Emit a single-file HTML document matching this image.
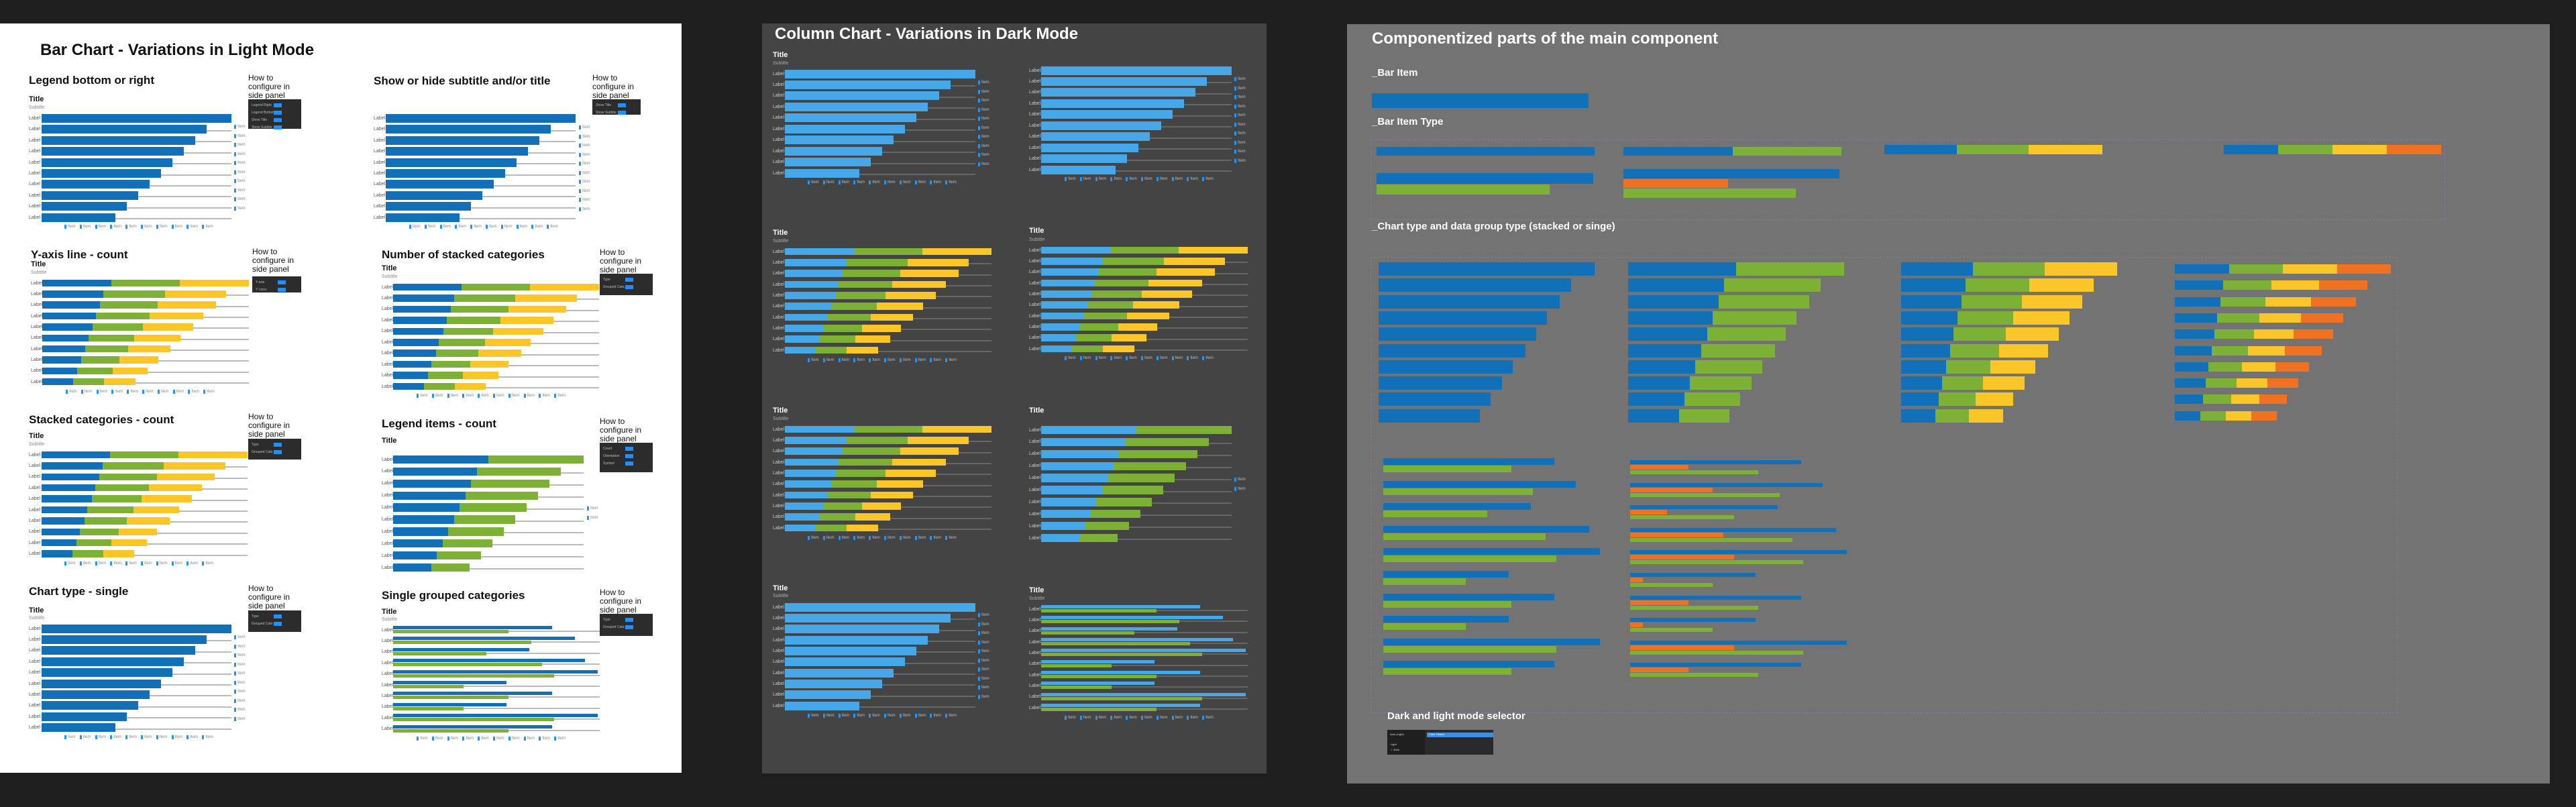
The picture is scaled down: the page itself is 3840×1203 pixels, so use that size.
<!DOCTYPE html>
<html><head><meta charset="utf-8">
<style>
html,body{margin:0;padding:0}
body{width:3840px;height:1203px;background:#1e1e1e;position:relative;overflow:hidden;font-family:"Liberation Sans",sans-serif}
.a{position:absolute}
.t{position:absolute;white-space:nowrap;line-height:1}
</style></head>
<body>
<div class="a" style="left:0;top:35px;width:1016px;height:1117px;background:#fff"></div>
<div class="a" style="left:1136px;top:35px;width:752px;height:1118px;background:#444"></div>
<div class="a" style="left:2008px;top:36px;width:1793px;height:1132px;background:#737373"></div>
<div class="a" style="left:2043px;top:208px;width:1600px;height:118px;border:1px dashed #8a76a8"></div>
<div class="a" style="left:2043px;top:383px;width:1529px;height:678px;border:1px dashed #8a76a8"></div>
<div id="root"></div>
<script>
// ---------- data ----------
const labels = ['Label','Label','Label','Label','Label','Label','Label','Label','Label','Label'];
const singleValues = [100,87,81,75,69,63,57,51,45,39];
const stackA = [33.3,29.7,28,26,24.3,22.3,20.7,18.7,17,15];
const stackB = [33.3,29.7,28,26,24.3,22.3,20.7,18.7,17,15];
const stackC = [33.3,29.7,28,26,24.3,22.3,20.7,18.7,17,15];
const legendCountA = [50,44,41,38,35,32,29,26,23,20];
const legendCountB = [50,44,41,38,35,32,29,26,23,20];
const groupBlue = [77,88,66,93,99,55,77,55,99,77];
const groupGreen = [56,67,45,72,78,34,56,34,78,56];
const compSingle = [100,89,84,78,73,68,62,57,52,47];
const compHalfA = [50,44.5,42,39,36.5,34,31,28.5,26,23.5];
const compHalfB = [50,44.5,42,39,36.5,34,31,28.5,26,23.5];
const compThirdA = [33.3,29.7,28,26,24.3,22.7,20.7,19,17.3,15.7];
const compThirdB = [33.3,29.7,28,26,24.3,22.7,20.7,19,17.3,15.7];
const compThirdC = [33.3,29.7,28,26,24.3,22.7,20.7,19,17.3,15.7];
const compQuarter = [25,22.3,21,19.5,18.3,17,15.5,14.3,13,11.8];
const compGroupBlue = [79,89,68,95,100,58,79,58,100,79];
const compGroupGreen = [59,69,48,75,80,38,59,38,80,59];
const compGroupOrange = [27,38,17,43,48,6,27,6,48,27];
const legendItems = ['Item','Item','Item','Item','Item','Item','Item','Item','Item','Item'];

const C = {blue:'#1170b8',green:'#7db135',yellow:'#fdc628',orange:'#f07122',dblue:'#46a7e9'};
const root = document.getElementById('root');

function box(x,y,w,h,bg,name,inter){
  const d=document.createElement('div');
  d.className='a';
  d.style.cssText=`left:${x}px;top:${y}px;width:${w}px;height:${h}px;background:${bg}`;
  
  
  root.appendChild(d);return d;
}
function txt(x,yc,s,size,color,bold,name){
  const d=document.createElement('div');
  d.className='t';
  d.style.cssText=`left:${x}px;top:${yc-size/2}px;font-size:${size}px;color:${color};font-weight:${bold?'bold':'normal'}`;
  d.textContent=s;
  
  
  root.appendChild(d);return d;
}

function chart(o){
  const dark=o.dark;
  const lc=dark?'#ccc':'#555', gc=dark?'#666':'#bbb';
  const bcol=dark?C.dblue:C.blue;
  const cols=[bcol,C.green,C.yellow,C.orange];
  if(o.title!==undefined){txt(o.labelX,o.title,'Title',11,dark?'#fff':'#111',true,'chart-title');}
  if(o.sub!==undefined){txt(o.labelX,o.sub,'Subtitle',7,dark?'#aaa':'#888',false,'chart-subtitle');}
  const W=o.xMax-o.x0;
  const sx=v=>v/100*W;
  labels.forEach((lb,i)=>{
    const yc=o.first+i*o.step;
    box(o.x0,yc+1,W,2,gc,'gridline',false);
    txt(o.labelX,yc,lb,7,lc,false,'y-axis-label');
    if(o.mode==='group'){
      const h=5;
      o.series.forEach((s,k)=>{
        box(o.x0,yc-h-1+k*(h+1),sx(s[i]),h,cols[k===1?1:0],'bar-'+(k?'green':'blue'),true);
      });
    } else {
      let x=o.x0;
      o.series.forEach((s,k)=>{
        const w=sx(s[i]);
        box(x,yc-o.h/2,w,o.h,cols[k],'bar-segment-'+(k+1),true);
        x+=w;
      });
    }
  });
  if(o.lr){for(let i=0;i<o.lr.n;i++){
    const y=o.lr.y0+i*o.lr.step;
    box(o.lr.x,y-3,3,6,'#2196f3','legend-swatch',false);
    txt(o.lr.x+5,y,legendItems[i],6,dark?'#bbb':'#888',false,'legend-entry');
  }}
  if(o.lb){legendItems.forEach((it,i)=>{
    const x=o.lb.x0+i*22.8;
    box(x,o.lb.y-3,3,6,'#2196f3','legend-swatch',false);
    txt(x+5,o.lb.y,it,6,dark?'#bbb':'#888',false,'legend-entry');
  });}
}
function config(x,y0,bx,by,bw,bh,rows){
  ['How to','configure  in','side panel'].forEach((s,i)=>txt(x,y0+i*13,s,12,'#111',false,'config-note'));
  box(bx,by,bw,bh,'#2c2c2c','side-panel-preview',false);
  rows.forEach((r,i)=>{
    const y=by+9+i*11;
    txt(bx+5,y,r,5,'#bbb',false,'panel-row-label');
    box(bx+38,y-3,12,6,'#1e90ff','panel-control',true);
  });
}

// ---------- light panel ----------
txt(60,75,'Bar Chart - Variations in Light Mode',24,'#111',true,'light-panel-title');
const heads=[['Legend bottom or right',43,119],['Show or hide subtitle and/or title',557,120],['Y-axis line  - count',46,379],['Number of stacked categories',569,379],['Stacked categories - count',43,625],['Legend items - count',569,631],['Chart type - single',43,881],['Single grouped categories',569,887]];
heads.forEach(h=>txt(h[1],h[2],h[0],17,'#111',true,'section-heading'));

chart({labelX:43,x0:62,xMax:345,title:148,sub:160,first:176.5,step:16.4,h:13,series:[singleValues],lr:{x:349,y0:189,step:13.5,n:10},lb:{x0:96,y:338}});
chart({labelX:557,x0:575,xMax:858,first:176.5,step:16.4,h:13,series:[singleValues],lr:{x:863,y0:190,step:13.5,n:10},lb:{x0:610,y:338}});
chart({labelX:46,x0:63,xMax:371,title:394,sub:406,first:422,step:16.35,h:10.5,series:[stackA,stackB,stackC],lb:{x0:98,y:584}});
chart({labelX:569,x0:586,xMax:893,title:400,sub:412,first:428,step:16.45,h:10.5,series:[stackA,stackB,stackC],lb:{x0:621,y:590}});
chart({labelX:43,x0:62,xMax:369,title:650,sub:662,first:678,step:16.4,h:10.5,series:[stackA,stackB,stackC],lb:{x0:96,y:840}});
chart({labelX:569,x0:586,xMax:870,title:657,first:685,step:17.9,h:12.3,series:[legendCountA,legendCountB],lr:{x:875,y0:758,step:14,n:2}});
chart({labelX:43,x0:62,xMax:345,title:910,sub:921,first:937,step:16.4,h:13,series:[singleValues],lr:{x:349,y0:950,step:13.5,n:10},lb:{x0:96,y:1099}});
chart({labelX:569,x0:586,xMax:894,title:912,sub:923,first:939,step:16.4,mode:'group',series:[groupBlue,groupGreen],lb:{x0:621,y:1101}});

config(370,116,370,148,79,44,['Legend Right','Legend Bottom','Show Title','Show Subtitle']);
config(883,116,883,148,72,23,['Show Title','Show Subtitle']);
config(376,375,376,412,73,24,['Y-axis','Y Lines']);
config(894,376,894,408,79,32,['Type','Grouped Cate..']);
config(370,621,370,654,79,31,['Type','Grouped Cate..']);
config(894,628,894,660,79,44,['Count','Orientation','Symbol']);
config(370,877,370,910,79,32,['Type','Grouped Cate..']);
config(894,883,894,915,79,33,['Type','Grouped Cate..']);

// ---------- dark panel ----------
txt(1155,51,'Column Chart - Variations in Dark Mode',24,'#fff',true,'dark-panel-title');
chart({dark:1,labelX:1152,x0:1170,xMax:1454,title:82,sub:94,first:110,step:16.45,h:13,series:[singleValues],lr:{x:1458,y0:123,step:13.5,n:10},lb:{x0:1204,y:272}});
chart({dark:1,labelX:1534,x0:1552,xMax:1836,first:105,step:16.45,h:13,series:[singleValues],lr:{x:1840,y0:118,step:13.5,n:10},lb:{x0:1587,y:267}});
chart({dark:1,labelX:1152,x0:1170,xMax:1478,title:347,sub:359,first:375,step:16.35,h:10.7,series:[stackA,stackB,stackC],lb:{x0:1204,y:537}});
chart({dark:1,labelX:1534,x0:1552,xMax:1860,title:344,sub:357,first:373,step:16.35,h:10.7,series:[stackA,stackB,stackC],lb:{x0:1587,y:534}});
chart({dark:1,labelX:1152,x0:1170,xMax:1478,title:612,sub:624,first:640,step:16.35,h:10.7,series:[stackA,stackB,stackC],lb:{x0:1204,y:802}});
chart({dark:1,labelX:1534,x0:1552,xMax:1836,title:612,first:641,step:17.9,h:12.3,series:[legendCountA,legendCountB],lr:{x:1840,y0:715,step:13.5,n:2}});
chart({dark:1,labelX:1152,x0:1170,xMax:1454,title:877,sub:888,first:905,step:16.35,h:13,series:[singleValues],lr:{x:1458,y0:917,step:13.5,n:10},lb:{x0:1204,y:1067}});
chart({dark:1,labelX:1534,x0:1552,xMax:1860,title:880,sub:892,first:908,step:16.35,mode:'group',series:[groupBlue,groupGreen],lb:{x0:1587,y:1070}});

// ---------- components panel ----------
txt(2045,58,'Componentized parts of the main component',24,'#fff',true,'components-title');
txt(2045,108,'_Bar Item',15,'#fff',true,'bar-item-heading');
txt(2045,181,'_Bar Item Type',15,'#fff',true,'bar-item-type-heading');
txt(2045,337,'_Chart type and data group type (stacked or singe)',15,'#fff',true,'chart-type-heading');
txt(2068,1067,'Dark and light mode selector',15,'#fff',true,'mode-selector-heading');
box(2045,139,323,22,C.blue,'bar-item',true);
// bar item types
box(2052,219,325,13,C.blue,'type-single',false);
box(2420,219,163,13,C.blue,'type-2-blue',false);box(2583,219,162,13,C.green,'type-2-green',false);
box(2809,216,108,14,C.blue,'type-3-blue',false);box(2917,216,107,14,C.green,'type-3-green',false);box(3024,216,110,14,C.yellow,'type-3-yellow',false);
box(3315,216,81,14,C.blue,'type-4-blue',false);box(3396,216,81,14,C.green,'type-4-green',false);box(3477,216,81,14,C.yellow,'type-4-yellow',false);box(3558,216,81,14,C.orange,'type-4-orange',false);
box(2052,258,323,16,C.blue,'type-group2-blue',false);box(2052,275,258,15,C.green,'type-group2-green',false);
box(2420,252,322,14,C.blue,'type-group3-blue',false);box(2420,267,156,13,C.orange,'type-group3-orange',false);box(2420,281,257,14,C.green,'type-group3-green',false);

function compStack(x0,series,cols,h,name){
  const W=322;
  series[0].forEach((_,i)=>{
    const yc=401+i*24.3;let x=x0;
    series.forEach((s,k)=>{const w=s[i]/100*W;box(x,yc-h/2,w,h,cols[k],name,true);x+=w;});
  });
}
compStack(2055,[compSingle],[C.blue],20,'comp-single-bar');
compStack(2427,[compHalfA,compHalfB],[C.blue,C.green],20,'comp-stack2-segment');
compStack(2834,[compThirdA,compThirdB,compThirdC],[C.blue,C.green,C.yellow],20,'comp-stack3-segment');
compStack(3242,[compQuarter,compQuarter,compQuarter,compQuarter],[C.blue,C.green,C.yellow,C.orange],14,'comp-stack4-segment');

compGroupBlue.forEach((v,i)=>{
  const y=683+i*33.6;
  box(2062,y,v/100*323,10,C.blue,'comp-group2-blue',true);
  box(2062,y+11,compGroupGreen[i]/100*323,10,C.green,'comp-group2-green',true);
  box(2430,y+3,v/100*323,6,C.blue,'comp-group3-blue',true);
  box(2430,y+10,compGroupOrange[i]/100*323,7,C.orange,'comp-group3-orange',true);
  box(2430,y+18,compGroupGreen[i]/100*323,6,C.green,'comp-group3-green',true);
});
// mode selector preview
box(2068,1088,158,37,'#2a2a2a','mode-selector',true);
box(2068,1088,56,37,'#1f1f1f','mode-menu',true);
box(2127,1092,99,7,'#3d8fe6','color-tokens-row',true);
txt(2072,1095,'Auto (Light)',4,'#ddd',false,'mode-option');
txt(2073,1110,'Light',4,'#ddd',false,'mode-option');
txt(2073,1118,'✓ Dark',4,'#ddd',false,'mode-option');
txt(2130,1095,'Color Tokens',4,'#fff',false,'tokens-label');
</script>
</body></html>
